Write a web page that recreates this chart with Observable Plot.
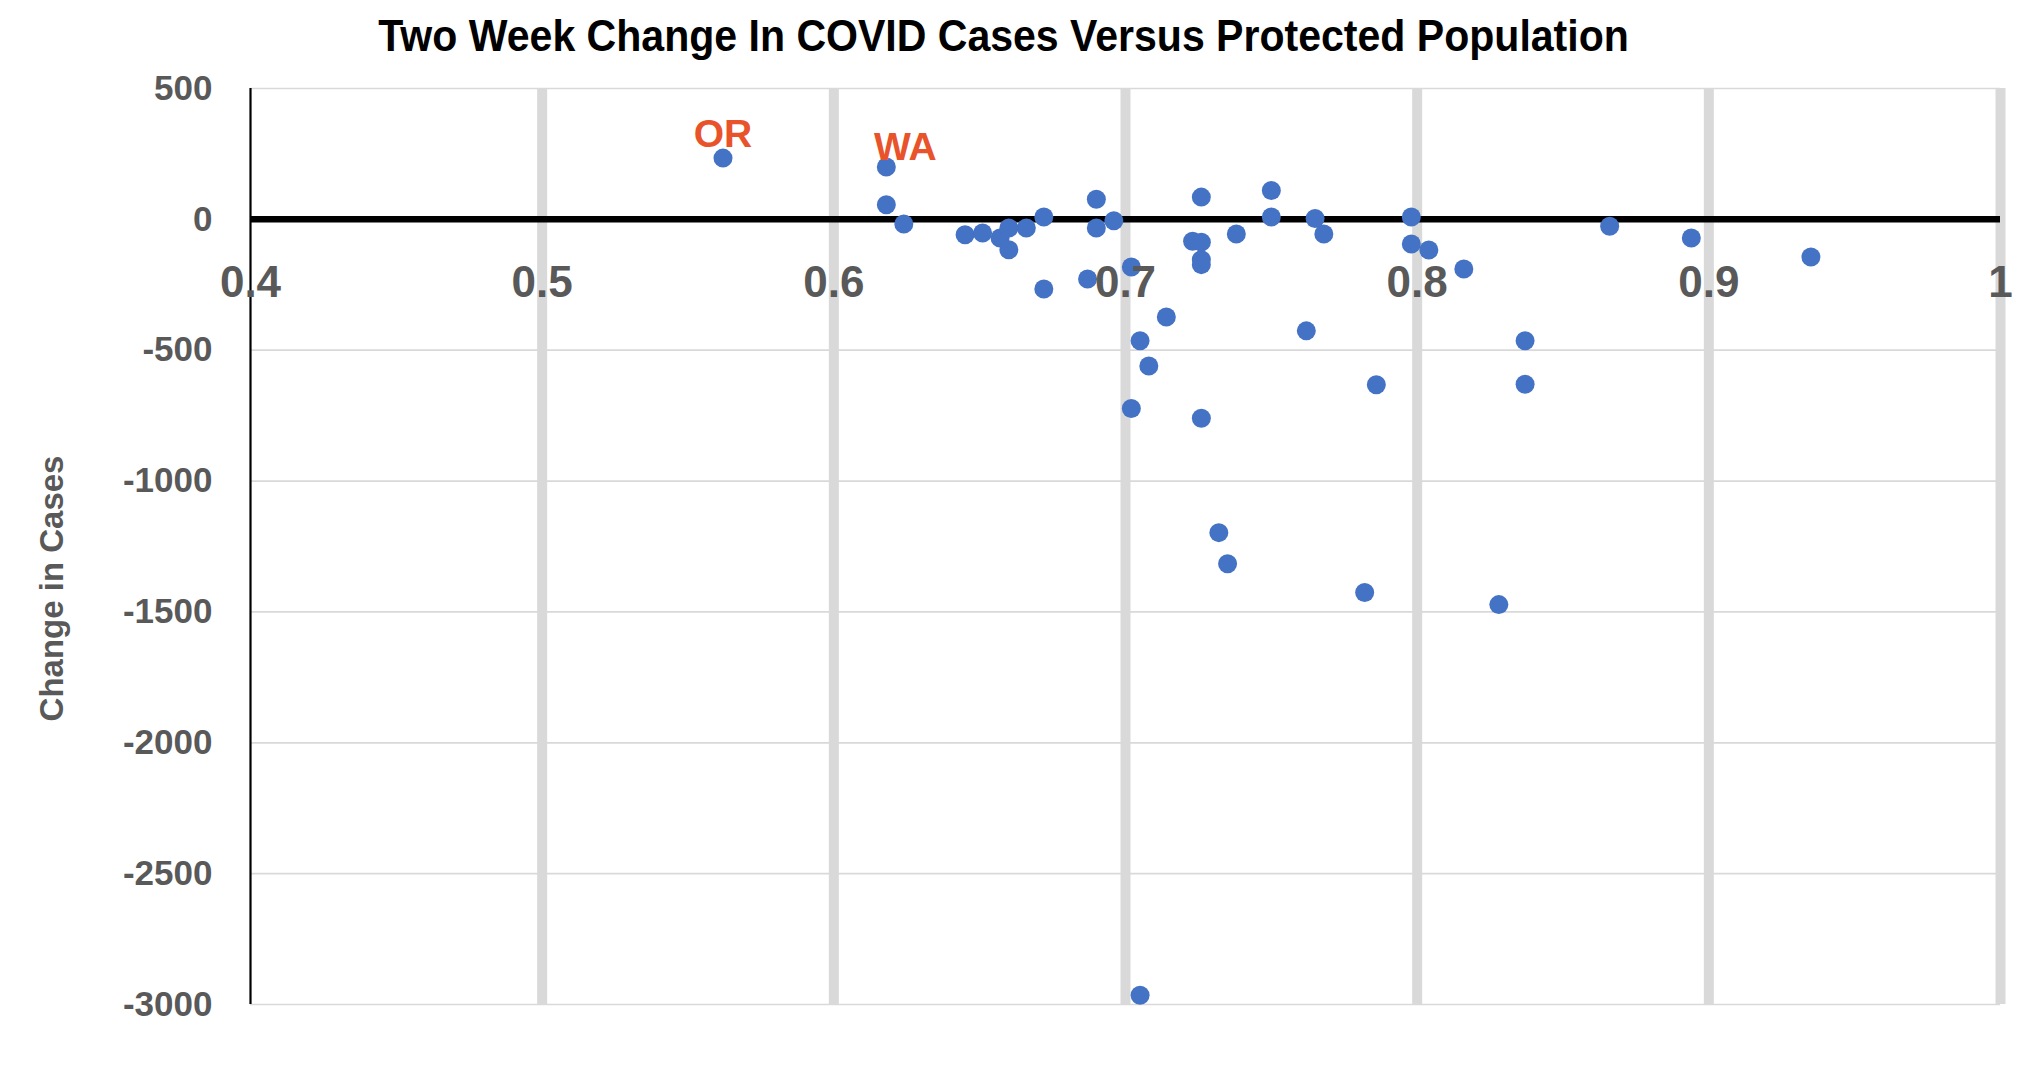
<!DOCTYPE html>
<html>
<head>
<meta charset="utf-8">
<script src="https://cdn.jsdelivr.net/npm/d3@7"></script>
<script src="https://cdn.jsdelivr.net/npm/@observablehq/plot@0.6"></script>
<style>
html, body { margin: 0; padding: 0; background: #fff; overflow: hidden; }
#title {
  width: 2008px; height: 60px; text-align: center; white-space: nowrap;
}
#title span {
  display: inline-block; line-height: 60px; position: relative; top: 6px;
  font-family: "Liberation Sans Narrow", "Liberation Sans", Arial, sans-serif;
  font-weight: 700; font-size: 45px; color: #000;
  transform: scaleX(0.912); transform-origin: center;
}
#chart { height: 1006px; }
</style>
</head>
<body>
<div id="title"><span>Two Week Change In COVID Cases Versus Protected Population</span></div>
<div id="chart"></div>
<script>
// Protected population share (x) and two-week change in cases (y)
const protectedShare = [
  0.562, 0.618, 0.618, 0.624, 0.645, 0.651, 0.657, 0.660, 0.660, 0.666,
  0.672, 0.672, 0.687, 0.690, 0.690, 0.696, 0.702, 0.702, 0.705, 0.705,
  0.708, 0.714, 0.723, 0.726, 0.726, 0.726, 0.726, 0.726, 0.732, 0.735,
  0.738, 0.750, 0.750, 0.762, 0.765, 0.768, 0.782, 0.786, 0.798, 0.798,
  0.804, 0.816, 0.828, 0.837, 0.837, 0.866, 0.894, 0.935
];
const caseChange = [
  234, 200, 56, -18, -59, -52, -71, -33, -116, -33,
  9, -266, -228, 77, -33, -5, -182, -723, -464, -2965,
  -560, -373, -84, -87, 85, -154, -173, -760, -1197, -1316,
  -56, 110, 9, -426, 3, -56, -1426, -632, 9, -94,
  -117, -190, -1472, -464, -630, -26, -71, -144
];
// Labelled states: name and index of its point
const labelNames = ["OR", "WA"];
const labelIndex = [0, 1];

const xTicks = [0.4, 0.5, 0.6, 0.7, 0.8, 0.9, 1];
const yTicks = [500, 0, -500, -1000, -1500, -2000, -2500, -3000];
const yLabel = "Change in Cases";

const points = protectedShare.map((x, i) => ({
  x, y: caseChange[i],
  state: labelIndex.includes(i) ? labelNames[labelIndex.indexOf(i)] : ""
}));

const font = "'Liberation Sans', Arial, sans-serif";
const grey = "#595959";

const chart = Plot.plot({
  width: 2026,
  height: 1006,
  marginLeft: 250,
  marginRight: 26,
  marginTop: 28,
  marginBottom: 62,
  x: {domain: [0.4, 1], axis: null},
  y: {domain: [-3000, 500], axis: null},
  style: {background: "#fff", fontFamily: font, overflow: "visible"},
  marks: [
    Plot.ruleX(xTicks.filter(d => d > 0.4), {stroke: "#d9d9d9", strokeWidth: 10}),
    Plot.ruleY(yTicks.filter(d => d !== 0), {stroke: "#d9d9d9", strokeWidth: 1.7}),
    Plot.ruleX([0.4], {stroke: "#000", strokeWidth: 2.2}),
    Plot.ruleY([0], {stroke: "#000", strokeWidth: 6.5}),
    Plot.axisY(yTicks, {
      tickSize: 0, tickPadding: 38, tickFormat: d => String(d),
      fontSize: 35, fontWeight: "bold", fill: grey, label: null
    }),
    Plot.dot(points, {x: "x", y: "y", r: 9.5, fill: "#4472C4", stroke: null}),
    Plot.text(xTicks, {
      x: d => d, y: () => 0, text: d => String(d), dy: 78, lineAnchor: "bottom",
      fontSize: 44, fontWeight: "bold", fill: grey
    }),
    Plot.text(points.filter(d => d.state === "OR"), {
      x: "x", y: "y", text: "state", dy: -11, lineAnchor: "bottom",
      fontSize: 39, fontWeight: "bold", fill: "#E9532B"
    }),
    Plot.text(points.filter(d => d.state === "WA"), {
      x: "x", y: "y", text: "state", dx: 19, dy: -7, lineAnchor: "bottom",
      fontSize: 39, fontWeight: "bold", fill: "#E9532B"
    }),
    Plot.text([yLabel], {
      frameAnchor: "left", rotate: -90, dx: -211, dy: 42,
      textAnchor: "middle", lineAnchor: "top",
      text: d => d, fontSize: 33, fontWeight: "bold", fill: grey
    })
  ]
});
document.getElementById("chart").appendChild(chart);
</script>
</body>
</html>
